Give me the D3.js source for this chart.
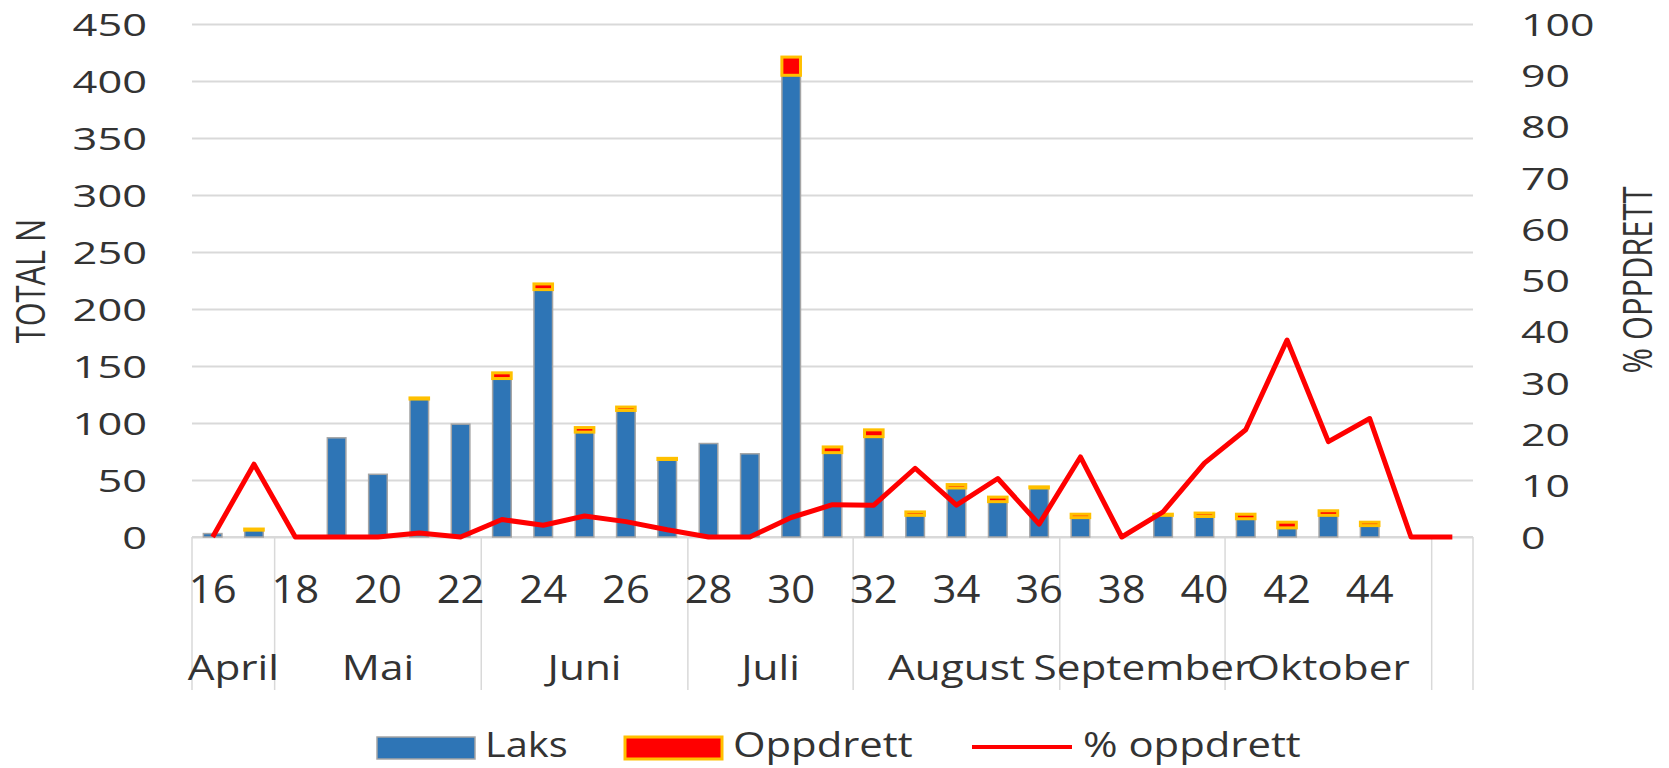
<!DOCTYPE html>
<html>
<head>
<meta charset="utf-8">
<script src="https://cdn.jsdelivr.net/npm/d3@7"></script>
<style>
  html, body { margin: 0; padding: 0; background: #fff; }
  text { font-family: "Open Sans", "Liberation Sans", sans-serif; fill: #333; }
</style>
</head>
<body>
<div id="root" style="width:1669px;height:768px;"></div>
<script>
// weeks (last category has no label in the original)
var weeks = ["16","17","18","19","20","21","22","23","24","25","26","27","28","29","30",
             "31","32","33","34","35","36","37","38","39","40","41","42","43","44","45",""];
var months = ["April","Mai","Juni","Juli","August","September","Oktober",""];
var monthSpan = [2, 5, 5, 4, 5, 4, 5, 1];

var laks      = [3,6,0,87,55,121,99,139,217,92,111,68,82,73,405,74,88,19,43,31,43,17,0,19,18,16,8,19,10,0,0];
var oppdrett  = [0,1,0,0,0,1,0,5,5,4,3,1,0,0,16,5,6,3,3,4,1,3,0,1,3,4,5,4,3,0,0];
var pctOpp    = [0,14.2,0,0,0,0.8,0,3.4,2.3,4.1,3.0,1.4,0,0,3.8,6.3,6.2,13.4,6.2,11.4,2.5,15.6,0,4.9,14.4,20.9,38.4,18.6,23.1,0,0];

var leftTicks = [0,50,100,150,200,250,300,350,400,450];
var rightTicks = [0,10,20,30,40,50,60,70,80,90,100];

var width = 1669, height = 768;
var x0 = 192, x1 = 1473, yTop = 24, yBase = 537;

var svg = d3.select("#root").append("svg")
    .attr("width", width)
    .attr("height", height);

var ids = weeks.map(function(d, i) { return i; });

var x = d3.scaleBand()
    .domain(ids)
    .range([x0, x1])
    .paddingInner(0.55)
    .paddingOuter(0.275);

var yL = d3.scaleLinear().domain([0, 450]).range([yBase, yTop]);
var yR = d3.scaleLinear().domain([0, 100]).range([yBase, yTop]);

// gridlines + left axis
var gLeft = svg.append("g")
    .attr("transform", "translate(" + x0 + ",0)")
    .call(d3.axisLeft(yL).tickValues(leftTicks).tickSize(-(x1 - x0)).tickPadding(0));
gLeft.select(".domain").remove();
gLeft.selectAll(".tick line").attr("stroke", "#d9d9d9").attr("stroke-width", 2);
gLeft.selectAll(".tick text")
    .attr("font-size", 31)
    .attr("x", -45 / 1.4)
    .attr("dy", "0.36em")
    .attr("transform", "scale(1.4,1)")
    .attr("fill", "#333");

// right axis
var gRight = svg.append("g")
    .attr("transform", "translate(" + x1 + ",0)")
    .call(d3.axisRight(yR).tickValues(rightTicks).tickSize(0));
gRight.select(".domain").remove();
gRight.selectAll(".tick text")
    .attr("font-size", 31)
    .attr("x", 48 / 1.38)
    .attr("dy", "0.36em")
    .attr("text-anchor", "start")
    .attr("transform", "scale(1.38,1)")
    .attr("fill", "#333");

// category axis line and month dividers
svg.append("line")
    .attr("x1", x0).attr("x2", x1)
    .attr("y1", yBase).attr("y2", yBase)
    .attr("stroke", "#d9d9d9").attr("stroke-width", 2);

var bounds = [0];
monthSpan.forEach(function(s, i) { bounds.push(bounds[i] + s); });
var step = x.step();

svg.append("g").selectAll("line")
    .data(bounds)
    .enter().append("line")
    .attr("x1", function(d) { return x0 + d * step; })
    .attr("x2", function(d) { return x0 + d * step; })
    .attr("y1", yBase)
    .attr("y2", 690)
    .attr("stroke", "#d9d9d9")
    .attr("stroke-width", 1.5);

// week labels, every second one
svg.append("g").selectAll("text")
    .data(ids.filter(function(i) { return i % 2 === 0; }))
    .enter().append("text")
    .attr("transform", function(i) {
        return "translate(" + (x(i) + x.bandwidth() / 2) + ",603) scale(1.1,1)";
    })
    .attr("text-anchor", "middle")
    .attr("font-size", 38)
    .text(function(i) { return weeks[i]; });

// month labels
svg.append("g").selectAll("text")
    .data(months)
    .enter().append("text")
    .attr("transform", function(d, i) {
        var cx = x0 + (bounds[i] + monthSpan[i] / 2) * step;
        return "translate(" + cx + ",680) scale(1.21,1)";
    })
    .attr("text-anchor", "middle")
    .attr("font-size", 35)
    .text(function(d) { return d; });

// stacked bars
var bars = svg.append("g");
bars.selectAll("rect.laks")
    .data(ids.filter(function(i) { return laks[i] > 0; }))
    .enter().append("rect")
    .attr("class", "laks")
    .attr("x", function(i) { return x(i); })
    .attr("width", x.bandwidth())
    .attr("y", function(i) { return yL(laks[i]); })
    .attr("height", function(i) { return yL(0) - yL(laks[i]); })
    .attr("fill", "#2e75b6")
    .attr("stroke", "#a5a5a5")
    .attr("stroke-width", 1.5);

bars.selectAll("rect.opp")
    .data(ids.filter(function(i) { return oppdrett[i] > 0; }))
    .enter().append("rect")
    .attr("class", "opp")
    .attr("x", function(i) { return x(i); })
    .attr("width", x.bandwidth())
    .attr("y", function(i) { return yL(laks[i] + oppdrett[i]); })
    .attr("height", function(i) { return yL(laks[i]) - yL(laks[i] + oppdrett[i]); })
    .attr("fill", "#ff0000")
    .attr("stroke", "#ffc000")
    .attr("stroke-width", 3);

// % oppdrett line
var line = d3.line()
    .x(function(i) { return x(i) + x.bandwidth() / 2; })
    .y(function(i) { return yR(pctOpp[i]); });

svg.append("path")
    .datum(ids)
    .attr("d", line)
    .attr("fill", "none")
    .attr("stroke", "#ff0000")
    .attr("stroke-width", 5)
    .attr("stroke-linejoin", "round");

// axis titles
svg.append("text")
    .attr("transform", "translate(30,281) rotate(-90) scale(1.1,1.45)")
    .attr("text-anchor", "middle")
    .attr("dy", "0.36em")
    .attr("font-size", 28)
    .text("TOTAL N");

svg.append("text")
    .attr("transform", "translate(1637,280) rotate(-90) scale(1.1,1.45)")
    .attr("text-anchor", "middle")
    .attr("dy", "0.36em")
    .attr("font-size", 28)
    .text("% OPPDRETT");

// legend
var legend = svg.append("g");
legend.append("rect")
    .attr("x", 377).attr("y", 737).attr("width", 98).attr("height", 22)
    .attr("fill", "#2e75b6").attr("stroke", "#a5a5a5").attr("stroke-width", 1.5);
legend.append("text")
    .attr("transform", "translate(485,757) scale(1.17,1)")
    .attr("font-size", 34)
    .text("Laks");

legend.append("rect")
    .attr("x", 625).attr("y", 737).attr("width", 97).attr("height", 22)
    .attr("fill", "#ff0000").attr("stroke", "#ffc000").attr("stroke-width", 3);
legend.append("text")
    .attr("transform", "translate(733,757) scale(1.23,1)")
    .attr("font-size", 34)
    .text("Oppdrett");

legend.append("line")
    .attr("x1", 972).attr("x2", 1072).attr("y1", 747).attr("y2", 747)
    .attr("stroke", "#ff0000").attr("stroke-width", 4);
legend.append("text")
    .attr("transform", "translate(1083,757) scale(1.23,1)")
    .attr("font-size", 34)
    .text("% oppdrett");
</script>
</body>
</html>
